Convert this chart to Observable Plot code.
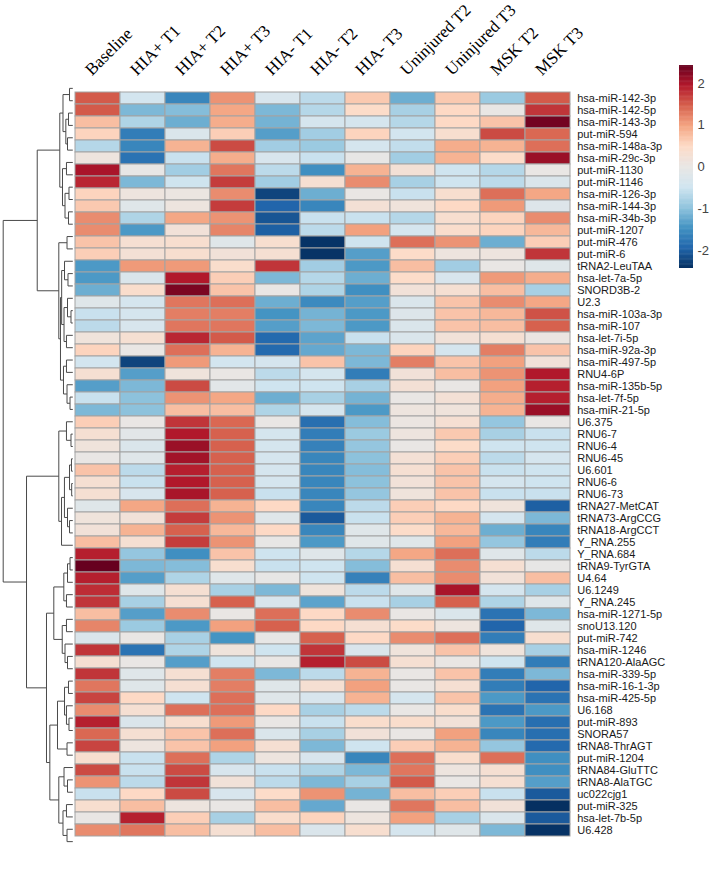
<!DOCTYPE html>
<html>
<head>
<meta charset="utf-8">
<script src="https://cdn.jsdelivr.net/npm/d3@7"></script>
<script src="https://cdn.jsdelivr.net/npm/@observablehq/plot@0.6"></script>
<style>
html, body { margin: 0; padding: 0; background: #fff; overflow: hidden; }
#chart { position: relative; width: 709px; height: 871px; overflow: hidden; background: #fff; }
#chart > svg { position: absolute; top: 0; }
</style>
</head>
<body>
<div id="chart"></div>
<script>
// ---------- DATA ----------
const columns = ["Baseline", "HIA+ T1", "HIA+ T2", "HIA+ T3", "HIA- T1", "HIA- T2", "HIA- T3",
  "Uninjured T2", "Uninjured T3", "MSK T2", "MSK T3"];

const rows = ["hsa-miR-142-3p", "hsa-miR-142-5p", "hsa-miR-143-3p", "put-miR-594", "hsa-miR-148a-3p",
  "hsa-miR-29c-3p", "put-miR-1130", "put-miR-1146", "hsa-miR-126-3p", "hsa-miR-144-3p", "hsa-miR-34b-3p",
  "put-miR-1207", "put-miR-476", "put-miR-6", "tRNA2-LeuTAA", "hsa-let-7a-5p", "SNORD3B-2", "U2.3",
  "hsa-miR-103a-3p", "hsa-miR-107", "hsa-let-7i-5p", "hsa-miR-92a-3p", "hsa-miR-497-5p", "RNU4-6P",
  "hsa-miR-135b-5p", "hsa-let-7f-5p", "hsa-miR-21-5p", "U6.375", "RNU6-7", "RNU6-4", "RNU6-45", "U6.601",
  "RNU6-6", "RNU6-73", "tRNA27-MetCAT", "tRNA73-ArgCCG", "tRNA18-ArgCCT", "Y_RNA.255", "Y_RNA.684",
  "tRNA9-TyrGTA", "U4.64", "U6.1249", "Y_RNA.245", "hsa-miR-1271-5p", "snoU13.120", "put-miR-742",
  "hsa-miR-1246", "tRNA120-AlaAGC", "hsa-miR-339-5p", "hsa-miR-16-1-3p", "hsa-miR-425-5p", "U6.168",
  "put-miR-893", "SNORA57", "tRNA8-ThrAGT", "put-miR-1204", "tRNA84-GluTTC", "tRNA8-AlaTGC", "uc022cjg1",
  "put-miR-325", "hsa-let-7b-5p", "U6.428"];

// scaled expression per column (row order as above)
const baseline = [1.5, 1.5, 0.75, 0.55, -0.7, 0.1, 2.0, 1.85, 0.55, 0.65, 1.15, 1.15, 0.7, 0.6, -1.4, -1.4, -1.2, -0.2, -0.55, -0.65, 0.15, 0.55, -0.45, 0.3, -1.35, -0.55, -1.1, 0.6, 0.3, 0.15, 0, 0.7, 0.3, 0.3, -0.2, 0.15, 0.2, 0.75, 1.9, 2.45, 1.9, 1.8, 1.75, 0.75, 1.2, -0.3, 1.75, 0.3, 1.75, 1.3, 1.65, 1.15, 1.9, 1.4, 1.65, 0.35, 1.6, 1.1, -0.55, 0.35, 0, 1.15];
const hiaPosT1 = [-0.45, -1.1, -0.75, -1.7, -1.6, -1.8, -0.05, -1.1, 0.1, -0.2, -0.75, -1.4, 0.3, 0.25, 1.05, -0.3, 0.4, -0.4, -0.4, -0.35, 0.3, 0, -2.25, -1.35, -1.1, -1.0, -1.0, 0, -0.15, -0.3, -0.2, -0.65, -0.55, -0.35, 0.95, 0.2, 0.85, 0.3, -0.95, -1.1, -1.35, -0.2, -0.8, -1.35, -0.9, 0, -1.8, 0, -0.2, -0.2, 0.5, 0.3, -0.3, 0.3, 0.1, -0.55, -0.55, -0.65, 0.5, 0.75, 1.9, 1.3];
const hiaPosT2 = [-1.6, -1.05, -1.2, -0.3, 0.85, -0.55, -0.85, -0.5, 0.05, 0.1, 0.95, 0.2, 0.35, 0.35, 1.05, 1.95, 2.3, 1.3, 1.25, 1.3, 1.85, 1.35, 1.05, 0.15, 1.6, 1.1, 0.75, 1.75, 1.95, 2.1, 2.05, 1.9, 1.95, 2.0, 1.35, 1.7, 1.45, 1.7, -1.5, -1.05, -0.75, 0.3, 0.3, 1.15, -1.4, -0.8, -0.75, -1.35, 0.3, 0.3, -0.5, 1.35, 0.35, 0.7, 0.7, 1.35, 1.6, 1.75, 1.6, 0.1, 0.6, 0.75];
const hiaPosT3 = [1.1, 0.95, 0.9, 0.6, 1.6, 0.9, 1.3, 1.7, 1.15, 1.7, 1.1, 1.2, -0.2, 0.2, 0.4, 0.6, 0.7, 1.35, 1.25, 1.3, 1.5, 0.85, -0.45, 0, -0.15, 0.95, 0.75, 1.4, 1.45, 1.45, 1.45, 1.45, 1.45, 1.45, 0.85, 1.1, 0.8, 1.1, 0.7, 0.35, -0.2, -0.8, 1.45, 0, 1.0, -1.45, 0.15, -0.5, 1.25, 1.25, 1.35, 1.35, 1.05, 1.35, 1.0, -0.75, -0.35, 0.2, -0.35, 0, -0.8, 0.3];
const hiaNegT1 = [-0.35, -1.1, -1.15, -1.35, -0.85, -0.35, -0.65, -0.85, -2.25, -1.95, -2.1, -2.0, 0.35, 0.3, 1.75, -1.1, 0, -1.2, -1.45, -1.35, -1.9, -1.9, -0.4, -0.65, -0.5, -1.2, -0.75, 0, -0.4, -0.4, -0.4, -0.4, -0.4, -0.55, 0.5, -0.2, 0.5, -0.05, -0.5, -0.55, -0.05, -1.1, -0.35, 1.35, 1.45, -0.05, -0.5, 0, -1.1, -0.2, -0.2, 0.5, 0, -0.3, 0.3, 0.1, -0.55, -0.65, 0.45, 0.75, 0.4, 0.75];
const hiaNegT2 = [-0.65, -0.7, -0.4, -0.85, -0.9, -0.55, -1.5, 0.3, -1.2, -1.6, -0.55, -0.65, -2.4, -2.4, -0.85, -0.7, -0.75, -1.55, -1.15, -1.1, -1.3, -1.25, 0.7, -0.4, -0.5, -0.8, -0.4, -1.85, -1.7, -1.65, -1.6, -1.6, -1.6, -1.6, -1.6, -2.05, -1.6, -1.4, -0.2, -0.5, -0.5, 0.15, -1.3, 0.5, 0.5, 1.45, 1.75, 1.9, -0.65, 0.3, -0.35, -0.8, -0.55, -0.8, -1.1, -0.35, -0.75, -1.1, 1.1, -1.25, 0.55, -0.3];
const hiaNegT3 = [0.65, 0.45, -0.4, 0.55, -0.4, -0.05, 0.85, 1.15, 0, 0.25, -0.55, 1.0, -0.5, -1.35, -1.4, -1.2, -1.5, -1.35, -1.4, -1.4, -0.55, -1.1, -1.1, -1.7, -0.8, -1.15, -1.4, -1.05, -0.9, -0.95, -1.0, -1.05, -1.0, -0.95, -0.65, -0.55, -0.2, -0.2, -0.7, -1.05, -1.65, -0.65, -0.55, 1.15, 0.3, 0.5, -0.3, 1.6, 0.85, 1.0, 0.85, -0.65, 0.4, 0.2, -0.5, -1.6, -1.1, -0.8, -1.15, 0, 0.1, 0.35];
const uninjuredT2 = [-1.2, -0.8, -0.7, -0.45, -0.6, -0.85, 0.25, -0.8, -0.55, 0.15, -0.7, -0.4, 1.35, 0.45, 0.75, 0.45, 0.2, -0.3, -0.25, -0.3, -0.3, 0.55, 1.25, 0.2, 0.25, 0, 0.1, 0.05, 0.1, 0, 0.25, 0.3, 0.2, 0.15, 0.6, 0.6, 0.45, -0.2, 0.95, 0.3, 0.75, -0.2, -0.8, 0, 0.45, 1.15, 0.15, 0.3, 0, 0, -0.4, 0, 0.4, 0, 0.6, 1.35, 1.3, 1.5, 0.75, 1.3, 1.0, -0.4];
const uninjuredT3 = [0.65, 0.5, 0.5, 0.35, 0.9, 0.85, -0.5, -0.5, 0.35, 0.5, 0.35, 0.4, 1.1, 0.1, -0.85, -0.35, 0.3, 0.7, 0.7, 0.7, 0.2, -0.4, 0.7, 0.75, 0, 0.25, 0.15, 0.3, 0.65, 0.45, 0.6, 0.7, 0.7, 0.7, 0.5, 0.85, 0.8, 1.0, 1.35, 1.15, 1.15, 2.0, 1.45, -0.3, 0.1, 1.35, 0.7, 0, 0.7, 0.3, 0.7, 0.4, 0.2, 1.0, 0.85, 0.4, 0.1, 0, 0.6, 0.75, -0.8, -0.2];
const mskT2 = [-0.9, 0, 0.7, 1.6, 0.85, 0.45, -0.7, -0.65, 1.35, 1.05, 0.55, 0.55, -1.2, 0.1, 0, 1.05, 0.75, 1.15, 0.8, 0.75, 0.3, 1.25, 1.0, 1.1, 1.0, 0.9, 0.85, -0.95, -0.8, -0.5, -0.65, -0.55, -0.4, -0.55, 0.15, -0.4, -1.2, -0.95, -0.2, 0.3, 0.2, -0.4, -0.75, -1.8, -1.95, -1.7, 0.15, -0.5, -1.7, -1.7, -1.4, -1.8, -1.4, -1.6, -0.95, 1.35, 0.3, 0.3, -0.55, 0.2, -0.3, -1.1];
const mskT3 = [1.5, 1.75, 2.35, 1.4, 1.35, 2.1, 0, -0.3, 0.95, -0.25, 1.15, 0.8, 0.6, 1.75, -0.2, 0.9, -0.8, 0.95, 1.55, 1.45, 0.05, 0.7, 0.2, 1.95, 1.9, 1.9, 2.1, 0, -0.55, -0.5, -0.4, -0.5, -0.5, -0.55, -2.0, -1.1, -1.6, -1.7, -0.65, -0.05, 0.75, -0.8, -0.2, -1.1, -0.2, 0.35, -0.8, -1.7, -1.1, -1.95, -1.8, -1.4, -1.85, -1.85, -1.9, -1.5, -1.5, -1.35, -2.05, -2.45, -2.05, -2.4];

// row dendrogram: [mergeHeight, left, right]; leaves are 1-based row numbers
const treeA = [5.11,
  [1.87,
    [1.41, [0.47, 1, 2], [1.0, [0.62, 3, 4], [0.76, 5, 6]]],
    [1.48, [0.91, 7, 8], [1.12, [0.55, 9, 10], [0.62, 11, 12]]]],
  [2.01,
    [0.83, 13, 14],
    [1.77,
      [1.6, [1.19, 15, [0.69, 16, 17]], [1.26, [0.76, 18, [0.26, 19, 20]], [0.91, 21, 22]]],
      [1.34, [0.91, 23, 24], [0.83, 25, [0.40, 26, 27]]]]]];
const treeB = [6.65,
  [2.01,
    [0.91, 28, [0.26, 29, 30]],
    [1.62, [1.2, [0.47, [0.19, 31, 32], [0.16, 33, 34]], [0.76, 35, [0.47, 36, 37]]], 38]],
  [3.78,
    [2.73,
      [1.29, [0.76, [0.40, 39, 40], 41], [0.91, 42, 43]],
      [1.52, [0.91, 44, 45], [1.12, 46, [0.76, 47, 48]]]],
    [3.30,
      [2.20, [1.19, [0.62, 49, 50], [0.91, 51, [0.55, 52, 53]]], [0.83, 54, 55]],
      [2.01, [1.26, 56, [0.76, 57, 58]], [1.41, [0.91, 59, 60], [0.83, 61, 62]]]]]];
const rootHeight = 10;

const legendTicks = [2, 1, 0, -1, -2];
const legendTickLabels = ["2", "1", "0", "-1", "-2"];

// ---------- BUILD ----------
const series = [baseline, hiaPosT1, hiaPosT2, hiaPosT3, hiaNegT1, hiaNegT2, hiaNegT3, uninjuredT2, uninjuredT3, mskT2, mskT3];
const cells = rows.flatMap((r, i) => columns.map((c, j) => ({row: r, col: c, value: series[j][i]})));

const palette = ["#053061", "#2166ac", "#4393c3", "#92c5de", "#d1e5f0", "#e9e6e4",
  "#fddbc7", "#f4a582", "#d6604d", "#b2182b", "#67001f"];
const colorScale = {type: "linear", domain: [-2.43, 2.43], interpolate: d3.piecewise(d3.interpolateRgb, palette), clamp: true};

// dendrogram segments from the tree
const segs = [];
function layout(node) {
  if (typeof node === "number") return {y: node - 0.5, h: 0};
  const [h, a, b] = node;
  const A = layout(a), B = layout(b);
  segs.push({x1: h, y1: A.y, x2: h, y2: B.y});
  segs.push({x1: h, y1: A.y, x2: A.h, y2: A.y});
  segs.push({x1: h, y1: B.y, x2: B.h, y2: B.y});
  return {y: (A.y + B.y) / 2, h};
}
layout([rootHeight, treeA, treeB]);

const TOP = 81.7, BOTTOM = 847.3, LEFT = 72.3, RIGHT = 572.7;
const sans = "'Liberation Sans', Arial, sans-serif";
const serif = "'Liberation Serif', 'Times New Roman', serif";

const heat = Plot.plot({
  width: 709, height: 871,
  marginTop: TOP, marginBottom: 871 - BOTTOM, marginLeft: LEFT, marginRight: 709 - RIGHT,
  x: {domain: columns, padding: 0, axis: null},
  y: {domain: rows, padding: 0, axis: null},
  color: colorScale,
  style: {fontFamily: sans, background: "transparent", color: "#1a1a1a"},
  marks: [
    Plot.cell(cells, {x: "col", y: "row", fill: "value", stroke: "#a3a3a3", strokeWidth: 1, inset: 0}),
    Plot.axisY({anchor: "right", tickSize: 0, tickPadding: 4, fontSize: 11, label: null}),
    Plot.text(columns, {x: d => d, text: d => d, frameAnchor: "top", dx: -6, dy: -6, rotate: -45,
      textAnchor: "start", lineAnchor: "bottom", fontSize: 17, fontFamily: serif, fill: "#000"})
  ]
});
heat.style.left = "0px";

const dendro = Plot.plot({
  width: 74, height: 871, margin: 0,
  x: {domain: [0, rootHeight], range: [LEFT, 2.7], axis: null},
  y: {domain: [0, rows.length], range: [TOP, BOTTOM], axis: null},
  style: {background: "transparent"},
  marks: [
    Plot.link(segs, {x1: "x1", y1: "y1", x2: "x2", y2: "y2", stroke: "#4a4a4a", strokeWidth: 1})
  ]
});
dendro.style.left = "0px";

const step = 0.02;
const stops = d3.range(-2.43, 2.43, step);
const legend = Plot.plot({
  width: 39, height: 230, margin: 0,
  x: {domain: [0, 1], range: [9, 23], axis: null},
  y: {domain: [-2.43, 2.43], range: [218, 15], axis: null},
  color: colorScale,
  style: {background: "transparent", fontFamily: sans},
  marks: [
    Plot.rect(stops, {x1: 0, x2: 1, y1: d => d, y2: d => Math.min(2.43, d + step * 1.6), fill: d => d + step / 2}),
    Plot.text(legendTicks, {x: 1, y: d => d, text: (d, i) => legendTickLabels[i], dx: 4, textAnchor: "start", fontSize: 13, fill: "#444"})
  ]
});
legend.style.left = "670px";
legend.style.top = "50px";

const chart = document.getElementById("chart");
chart.appendChild(heat);
chart.appendChild(dendro);
chart.appendChild(legend);
</script>
</body>
</html>
